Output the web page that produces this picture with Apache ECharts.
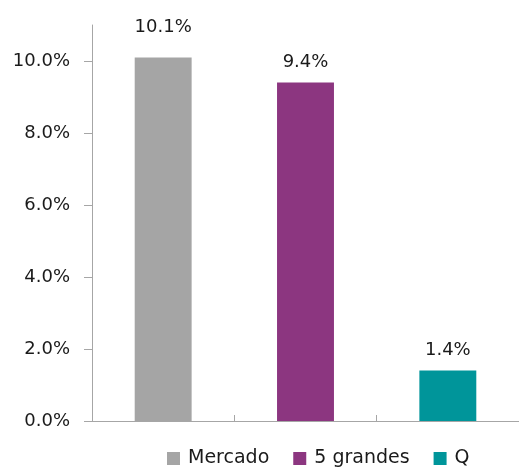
<!DOCTYPE html>
<html>
<head>
<meta charset="utf-8">
<script src="https://cdn.jsdelivr.net/npm/echarts@6/dist/echarts.min.js"></script>
<style>
  html, body { margin: 0; padding: 0; background: #fff; }
  #chart { width: 519px; height: 469px; }
</style>
</head>
<body>
<div id="chart"></div>
<script>
// datos
const categories = ['Mercado', '5 grandes', 'Q'];
const values = [10.1, 9.4, 1.4];
const colors = ['#A5A5A5', '#8C3680', '#00959A'];
const yTicks = [0, 2, 4, 6, 8, 10];

const FONT = 'DejaVu Sans';

var myChart = echarts.init(document.getElementById('chart'));

// una serie por categoría para tener la leyenda con tres colores
const series = categories.map((name, i) => ({
    name: name,
    type: 'bar',
    barWidth: '40%',
    barGap: '-100%',
    itemStyle: { color: colors[i] },
    label: {
        show: true,
        position: 'top',
        distance: i === 0 ? 21 : 11,
        color: '#1a1a1a',
        fontFamily: FONT,
        fontSize: 18,
        formatter: p => p.value.toFixed(1) + '%'
    },
    data: categories.map((c, j) => (j === i ? values[i] : '-'))
}));

myChart.setOption({
    animation: false,
    grid: { left: 92, right: -2, top: 25, bottom: 48 },
    legend: {
        top: 449,
        left: 167,
        padding: 0,
        itemWidth: 13,
        itemHeight: 13,
        itemGap: 24,
        icon: 'rect',
        textStyle: { fontFamily: FONT, fontSize: 19, color: '#1a1a1a', padding: [0, 0, 0, 3] },
        data: categories
    },
    xAxis: {
        type: 'category',
        data: categories,
        axisLine: { lineStyle: { color: '#A6A6A6', width: 1 } },
        axisTick: { show: true, length: 6, inside: true, alignWithLabel: false, lineStyle: { color: '#A6A6A6' } },
        axisLabel: { show: false }
    },
    yAxis: {
        type: 'value',
        min: 0,
        max: 11,
        splitLine: { show: false },
        axisLine: { show: true, lineStyle: { color: '#A6A6A6', width: 1 } },
        axisTick: { show: true, length: 8, customValues: yTicks, lineStyle: { color: '#A6A6A6' } },
        axisLabel: {
            customValues: yTicks,
            margin: 22,
            color: '#1a1a1a',
            fontFamily: FONT,
            fontSize: 18,
            formatter: v => v.toFixed(1) + '%'
        }
    },
    series: series
});
</script>
</body>
</html>
